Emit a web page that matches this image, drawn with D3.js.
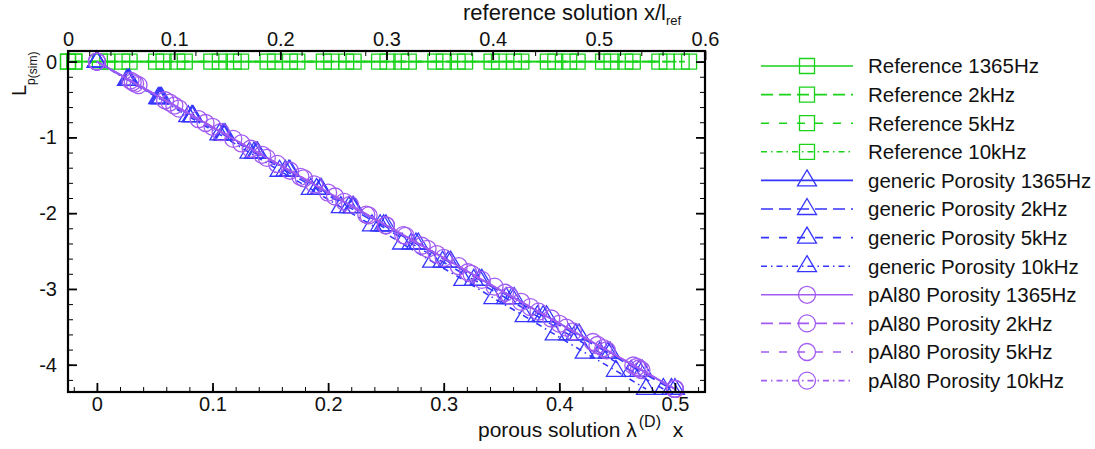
<!DOCTYPE html>
<html>
<head>
<meta charset="utf-8">
<script src="https://cdn.jsdelivr.net/npm/d3@7"></script>
<style>
  html, body { margin: 0; padding: 0; background: #fff; }
  svg text { font-family: "Liberation Sans", Arial, Helvetica, sans-serif; fill: #111; }
</style>
</head>
<body>
<svg id="chart" width="1095" height="449"></svg>
<script>
// ---------------- DATA ----------------
// Reference solutions (top axis x/l_ref), level 0 everywhere
const ref1365X = [0, 0.030, 0.083, 0.135, 0.188, 0.241, 0.293, 0.346, 0.399, 0.452, 0.504, 0.557];
const ref1365Y = [0, 0, 0, 0, 0, 0, 0, 0, 0, 0, 0, 0];
const ref2kX   = [0, 0.037, 0.090, 0.143, 0.195, 0.248, 0.301, 0.354, 0.406, 0.459, 0.512, 0.564];
const ref2kY   = [0, 0, 0, 0, 0, 0, 0, 0, 0, 0, 0, 0];
const ref5kX   = [0.006, 0.051, 0.103, 0.156, 0.209, 0.262, 0.314, 0.367, 0.420, 0.472, 0.525, 0.578];
const ref5kY   = [0, 0, 0, 0, 0, 0, 0, 0, 0, 0, 0, 0];
const ref10kX  = [0.006, 0.058, 0.110, 0.163, 0.216, 0.269, 0.321, 0.374, 0.427, 0.480, 0.532, 0.585];
const ref10kY  = [0, 0, 0, 0, 0, 0, 0, 0, 0, 0, 0, 0];

// generic Porosity (bottom axis lambda x)
const gen1365X = [0, 0.028, 0.056, 0.083, 0.111, 0.139, 0.167, 0.194, 0.222, 0.250, 0.278, 0.306, 0.333, 0.361, 0.389, 0.417, 0.444, 0.472, 0.500];
const gen1365Y = [0, -0.24, -0.48, -0.72, -0.96, -1.20, -1.44, -1.68, -1.92, -2.16, -2.40, -2.64, -2.88, -3.12, -3.36, -3.60, -3.84, -4.08, -4.32];
const gen2kX   = [0, 0.028, 0.055, 0.083, 0.110, 0.138, 0.166, 0.193, 0.221, 0.248, 0.276, 0.304, 0.331, 0.359, 0.386, 0.414, 0.442, 0.469, 0.497];
const gen2kY   = [0, -0.24, -0.48, -0.72, -0.96, -1.20, -1.44, -1.68, -1.92, -2.16, -2.40, -2.64, -2.88, -3.12, -3.36, -3.60, -3.84, -4.08, -4.32];
const gen5kX   = [0, 0.027, 0.054, 0.082, 0.109, 0.136, 0.163, 0.190, 0.218, 0.245, 0.272, 0.299, 0.326, 0.354, 0.381, 0.408, 0.435, 0.462, 0.490];
const gen5kY   = [0, -0.24, -0.48, -0.72, -0.96, -1.20, -1.44, -1.68, -1.92, -2.16, -2.40, -2.64, -2.88, -3.12, -3.36, -3.60, -3.84, -4.08, -4.32];
const gen10kX  = [0, 0.026, 0.053, 0.079, 0.106, 0.132, 0.158, 0.185, 0.211, 0.238, 0.264, 0.290, 0.317, 0.343, 0.370, 0.396, 0.422, 0.449, 0.475];
const gen10kY  = [0, -0.24, -0.48, -0.72, -0.96, -1.20, -1.44, -1.68, -1.92, -2.16, -2.40, -2.64, -2.88, -3.12, -3.36, -3.60, -3.84, -4.08, -4.32];

// pAl80 Porosity
const pal1365X = [0, 0.031, 0.063, 0.094, 0.125, 0.156, 0.188, 0.219, 0.250, 0.281, 0.313, 0.344, 0.375, 0.406, 0.438, 0.469, 0.500];
const pal1365Y = [0, -0.27, -0.54, -0.81, -1.08, -1.35, -1.62, -1.89, -2.16, -2.43, -2.70, -2.97, -3.24, -3.51, -3.78, -4.05, -4.32];
const pal2kX   = [0, 0.036, 0.071, 0.107, 0.143, 0.179, 0.214, 0.250, 0.286, 0.321, 0.357, 0.393, 0.429, 0.464, 0.500];
const pal2kY   = [0, -0.31, -0.62, -0.93, -1.23, -1.54, -1.85, -2.16, -2.47, -2.78, -3.09, -3.39, -3.70, -4.01, -4.32];
const pal5kX   = [0, 0.029, 0.059, 0.088, 0.118, 0.147, 0.176, 0.206, 0.235, 0.265, 0.294, 0.324, 0.353, 0.382, 0.412, 0.441, 0.471, 0.500];
const pal5kY   = [0, -0.25, -0.51, -0.76, -1.02, -1.27, -1.52, -1.78, -2.03, -2.29, -2.54, -2.80, -3.05, -3.30, -3.56, -3.81, -4.07, -4.32];
const pal10kX  = [0, 0.033, 0.067, 0.100, 0.133, 0.167, 0.200, 0.233, 0.267, 0.300, 0.333, 0.367, 0.400, 0.433, 0.467, 0.500];
const pal10kY  = [0, -0.29, -0.58, -0.86, -1.15, -1.44, -1.73, -2.02, -2.30, -2.59, -2.88, -3.17, -3.46, -3.74, -4.03, -4.32];

const seriesNames = [
  "Reference 1365Hz", "Reference 2kHz", "Reference 5kHz", "Reference 10kHz",
  "generic Porosity 1365Hz", "generic Porosity 2kHz", "generic Porosity 5kHz", "generic Porosity 10kHz",
  "pAl80 Porosity 1365Hz", "pAl80 Porosity 2kHz", "pAl80 Porosity 5kHz", "pAl80 Porosity 10kHz"
];

// ticks
const xTicksBottom = [0, 0.1, 0.2, 0.3, 0.4, 0.5];
const xTickLabelsBottom = ["0", "0.1", "0.2", "0.3", "0.4", "0.5"];
const xTicksTop = [0, 0.1, 0.2, 0.3, 0.4, 0.5, 0.6];
const xTickLabelsTop = ["0", "0.1", "0.2", "0.3", "0.4", "0.5", "0.6"];
const yTicks = [0, -1, -2, -3, -4];
const yTickLabels = ["0", "-1", "-2", "-3", "-4"];

// ---------------- STYLE ----------------
const GREEN = "#19d219", BLUE = "#3535ff", PURPLE = "#a25bf3";
const dashes = ["none", "12,6", "8,10", "6,4,1.5,4"];
const groupStyle = [
  { color: GREEN, marker: "square", axis: "top" },
  { color: BLUE, marker: "triangle", axis: "bottom" },
  { color: PURPLE, marker: "circle", axis: "bottom" }
];
const seriesData = [
  [ref1365X, ref1365Y], [ref2kX, ref2kY], [ref5kX, ref5kY], [ref10kX, ref10kY],
  [gen1365X, gen1365Y], [gen2kX, gen2kY], [gen5kX, gen5kY], [gen10kX, gen10kY],
  [pal1365X, pal1365Y], [pal2kX, pal2kY], [pal5kX, pal5kY], [pal10kX, pal10kY]
];

// ---------------- LAYOUT ----------------
const L = 68, R = 705, T = 51, B = 392;
const svg = d3.select("#chart");

const xB = d3.scaleLinear().domain([-0.025, 0.526]).range([L, R]);
const xT = d3.scaleLinear().domain([0, 0.6]).range([L, R]);
const y = d3.scaleLinear().domain([0.14, -4.36]).range([T, B]);

// markers
function markerPath(type) {
  if (type === "square") return "M-7.5,-7.5H7.5V7.5H-7.5Z";
  if (type === "triangle") return "M0,-10.5L9.5,5.5H-9.5Z";
  return d3.arc()({ innerRadius: 0, outerRadius: 8.5, startAngle: 0, endAngle: 2 * Math.PI });
}

const plot = svg.append("g");
seriesData.forEach((sd, i) => {
  const gs = groupStyle[Math.floor(i / 4)];
  const xs = gs.axis === "top" ? xT : xB;
  const pts = sd[0].map((xv, k) => [xv, sd[1][k]]);
  const line = d3.line().x(d => xs(d[0])).y(d => y(d[1]));
  const g = plot.append("g");
  g.append("path").attr("d", line(pts))
    .attr("fill", "none").attr("stroke", gs.color).attr("stroke-width", 1.6)
    .attr("stroke-dasharray", dashes[i % 4]);
  g.selectAll("path.m").data(pts).enter().append("path").attr("class", "m")
    .attr("d", markerPath(gs.marker))
    .attr("transform", d => `translate(${xs(d[0])},${y(d[1])})`)
    .attr("fill", "none").attr("stroke", gs.color).attr("stroke-width", 1.3);
});

// axes
function styleAxis(g, w) {
  g.select(".domain").remove();
  g.selectAll(".tick line").attr("stroke", "#000").attr("stroke-width", w);
  g.selectAll(".tick text").style("font-size", "20px").attr("fill", "#111");
}
const xMinorB = d3.range(-0.02, 0.521, 0.02);
const xMinorT = d3.range(0, 0.601, 0.02);
const yMinor = d3.range(0, -4.4, -0.2);

svg.append("g").attr("transform", `translate(0,${B})`)
  .call(d3.axisBottom(xB).tickValues(xMinorB).tickFormat("").tickSize(-5)).call(g => styleAxis(g, 1));
svg.append("g").attr("transform", `translate(0,${B})`)
  .call(d3.axisBottom(xB).tickValues(xTicksBottom).tickFormat((d, i) => xTickLabelsBottom[i]).tickSize(-9).tickPadding(5))
  .call(g => styleAxis(g, 1.8));

svg.append("g").attr("transform", `translate(0,${T})`)
  .call(d3.axisTop(xT).tickValues(xMinorT).tickFormat("").tickSize(-5)).call(g => styleAxis(g, 1));
svg.append("g").attr("transform", `translate(0,${T})`)
  .call(d3.axisTop(xT).tickValues(xTicksTop).tickFormat((d, i) => xTickLabelsTop[i]).tickSize(-9).tickPadding(5))
  .call(g => styleAxis(g, 1.8));

svg.append("g").attr("transform", `translate(${L},0)`)
  .call(d3.axisLeft(y).tickValues(yMinor).tickFormat("").tickSize(-5)).call(g => styleAxis(g, 1));
svg.append("g").attr("transform", `translate(${L},0)`)
  .call(d3.axisLeft(y).tickValues(yTicks).tickFormat((d, i) => yTickLabels[i]).tickSize(-9).tickPadding(11))
  .call(g => styleAxis(g, 1.8));

svg.append("g").attr("transform", `translate(${R},0)`)
  .call(d3.axisRight(y).tickValues(yMinor).tickFormat("").tickSize(-5)).call(g => styleAxis(g, 1));
svg.append("g").attr("transform", `translate(${R},0)`)
  .call(d3.axisRight(y).tickValues(yTicks).tickFormat("").tickSize(-9))
  .call(g => styleAxis(g, 1.8));

// frame
svg.append("rect").attr("x", L).attr("y", T).attr("width", R - L).attr("height", B - T)
  .attr("fill", "none").attr("stroke", "#000").attr("stroke-width", 2.2);

// titles
const tt = svg.append("text").attr("x", 463).attr("y", 20).style("font-size", "22px");
tt.append("tspan").text("reference solution x/l");
tt.append("tspan").text("ref").style("font-size", "13px").attr("dy", 5);

const bt = svg.append("text").attr("x", 478).attr("y", 437).style("font-size", "21px");
bt.append("tspan").text("porous solution λ");
bt.append("tspan").text("(D)").style("font-size", "16px").attr("dy", -10).attr("dx", 2);
bt.append("tspan").text(" x").attr("dy", 10).attr("dx", 6);

const yl = svg.append("text").attr("transform", "translate(26,96) rotate(-90)").style("font-size", "20px");
yl.append("tspan").text("L");
yl.append("tspan").text("p").style("font-size", "12px").attr("dy", 9);
yl.append("tspan").text("(sim)").style("font-size", "12px").attr("dy", 2);

// legend
const lg = svg.append("g");
seriesNames.forEach((name, i) => {
  const gs = groupStyle[Math.floor(i / 4)];
  const cy = 66 + i * 28.6;
  lg.append("line").attr("x1", 761).attr("x2", 853).attr("y1", cy).attr("y2", cy)
    .attr("stroke", gs.color).attr("stroke-width", 1.6).attr("stroke-dasharray", dashes[i % 4]);
  lg.append("path").attr("d", markerPath(gs.marker)).attr("transform", `translate(807,${cy})`)
    .attr("fill", "none").attr("stroke", gs.color).attr("stroke-width", 1.3);
  lg.append("text").attr("x", 868).attr("y", cy).attr("dy", "0.36em").style("font-size", "20.5px").text(name);
});
</script>
</body>
</html>
